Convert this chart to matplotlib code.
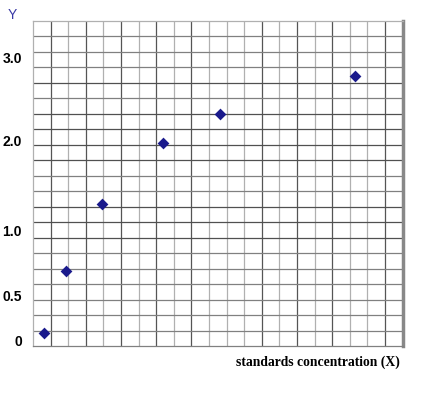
import matplotlib
matplotlib.use("Agg")
import matplotlib.pyplot as plt

# Data (in grid units of the chart paper)
x_vals = [0.63, 1.90, 3.92, 7.39, 10.65, 18.29]
y_vals = [0.86, 4.85, 9.15, 13.14, 15.00, 17.44]
y_tick_labels = ["0", "0.5", "1.0", "2.0", "3.0"]
y_tick_pos = [0.35, 3.25, 7.45, 13.3, 18.65]
x_label = "standards concentration (X)"
y_label = "Y"

n_cols, n_rows = 21, 21
dark_cols = [1, 3, 5, 7, 9, 13, 15, 17, 20]
dark_rows = [7, 8, 9, 12, 13, 14, 15, 17]

fig = plt.figure(figsize=(4.27, 3.95), dpi=100)
ax = fig.add_axes([33/427, 1-346/395, (402.7-33)/427, (346-21)/395])
ax.set_xlim(0, n_cols)
ax.set_ylim(0, n_rows)

for i in range(1, n_cols):
    c = "#555555" if i in dark_cols else "#b0b0b0"
    ax.axvline(i, color=c, lw=0.9, zorder=1)
for j in range(1, n_rows):
    c = "#505050" if j in dark_rows else "#808080"
    ax.axhline(j, color=c, lw=0.9, zorder=1)

ax.scatter(x_vals, y_vals, marker="D", s=36, color="#1a1a8c", zorder=3, linewidths=0)

ax.set_xticks([])
ax.set_yticks(y_tick_pos, y_tick_labels)
ax.tick_params(axis="y", length=0, pad=8, labelsize=10)
for lab in ax.get_yticklabels():
    lab.set_fontweight("bold")
    lab.set_fontfamily("Liberation Sans")

for s in ["left", "top"]:
    ax.spines[s].set_color("#b0b0b0")
    ax.spines[s].set_linewidth(0.9)
ax.spines["bottom"].set_color("#808080")
ax.spines["bottom"].set_linewidth(0.9)
ax.spines["right"].set_color("#888888")
ax.spines["right"].set_linewidth(2.5)

fig.text(12.3/427, 1-15/395, y_label, color="#3a3aa6", fontsize=10,
         fontfamily="Liberation Sans", ha="center", va="center")
fig.text(400/427, 1-362/395, x_label, fontsize=9.8, fontweight="bold",
         fontfamily="Liberation Serif", ha="right", va="center")

fig.savefig("out.png", dpi=100, facecolor="white")
